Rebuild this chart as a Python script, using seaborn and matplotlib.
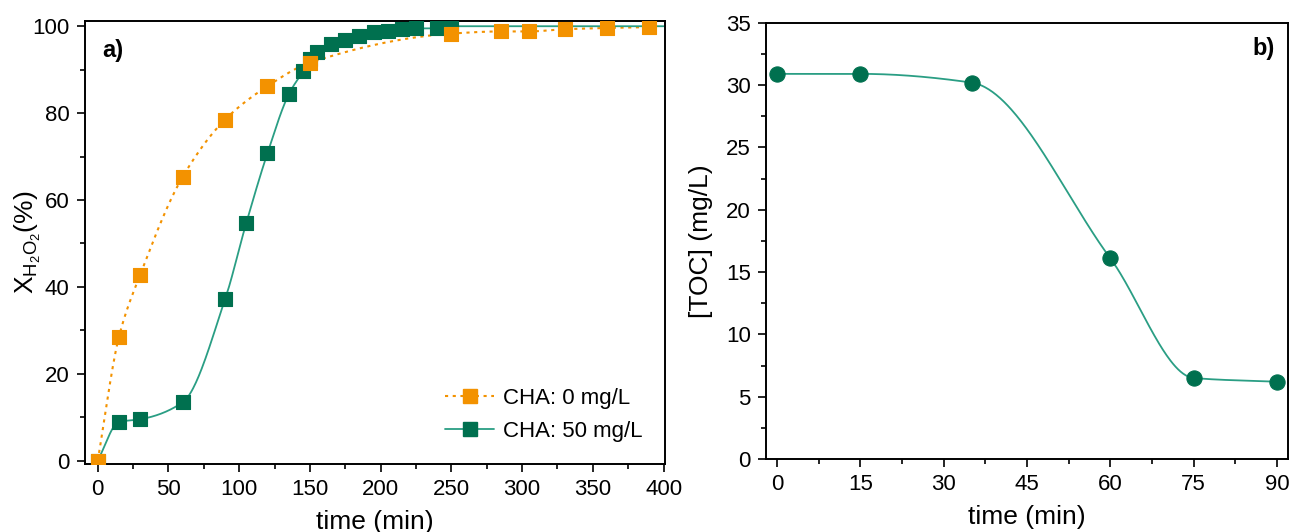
import numpy as np
import pandas as pd
import matplotlib
matplotlib.use("Agg")
import matplotlib.pyplot as plt
from matplotlib.lines import Line2D
from matplotlib.ticker import MultipleLocator
import seaborn as sns

# H2O2 conversion (%) vs time (min)
t_cha0 = [0, 15, 30, 60, 90, 120, 150, 250, 285, 305, 330, 360, 390]
x_cha0 = [0, 28.5, 42.8, 65.3, 78.5, 86.2, 91.6, 98.3, 98.8, 98.8, 99.3, 99.6, 99.8]

t_cha50 = [0, 15, 30, 60, 90, 105, 120, 135, 145, 150, 155, 165, 175, 185, 195,
           205, 215, 225, 240, 250]
x_cha50 = [0, 8.9, 9.5, 13.4, 37.1, 54.7, 70.8, 84.3, 89.6, 92.4, 94.0, 95.8, 96.9,
           97.8, 98.7, 98.9, 99.4, 99.5, 99.5, 100.0]

# TOC (mg/L) vs time (min)
t_toc = [0, 15, 35, 60, 75, 90]
toc = [30.9, 30.9, 30.2, 16.1, 6.5, 6.2]

legend_labels = ["CHA: 0 mg/L", "CHA: 50 mg/L"]

ORANGE = "#F39200"
GREEN_MK = "#00704F"
GREEN_LN = "#2A9E84"


def pchip(x, y, xn):
    """Monotone piecewise cubic Hermite interpolation (Fritsch-Carlson)."""
    x = np.asarray(x, float)
    y = np.asarray(y, float)
    h = np.diff(x)
    d = np.diff(y) / h
    m = np.zeros_like(y)
    for k in range(1, len(x) - 1):
        if d[k - 1] * d[k] > 0:
            w1 = 2 * h[k] + h[k - 1]
            w2 = h[k] + 2 * h[k - 1]
            m[k] = (w1 + w2) / (w1 / d[k - 1] + w2 / d[k])
    m[0] = d[0]
    m[-1] = d[-1]
    xn = np.asarray(xn, float)
    idx = np.clip(np.searchsorted(x, xn) - 1, 0, len(x) - 2)
    s = (xn - x[idx]) / h[idx]
    h00 = 2 * s**3 - 3 * s**2 + 1
    h10 = s**3 - 2 * s**2 + s
    h01 = -2 * s**3 + 3 * s**2
    h11 = s**3 - s**2
    return (h00 * y[idx] + h10 * h[idx] * m[idx] + h01 * y[idx + 1]
            + h11 * h[idx] * m[idx + 1])


sns.set_theme(style="ticks")
plt.rcParams["font.family"] = ["Liberation Sans", "DejaVu Sans"]
plt.rcParams["mathtext.fontset"] = "custom"
plt.rcParams["mathtext.rm"] = "Liberation Sans"
plt.rcParams["mathtext.it"] = "Liberation Sans"
plt.rcParams["text.color"] = "black"
plt.rcParams["axes.labelcolor"] = "black"
plt.rcParams["axes.linewidth"] = 1.4
plt.rcParams["xtick.major.width"] = 1.2
plt.rcParams["ytick.major.width"] = 1.2
plt.rcParams["xtick.minor.width"] = 1.2
plt.rcParams["ytick.minor.width"] = 1.2

fig = plt.figure(figsize=(12.94, 5.32), dpi=100)
ax1 = fig.add_axes([0.0657, 0.1278, 0.4482, 0.8327])
ax2 = fig.add_axes([0.5920, 0.1372, 0.4034, 0.8200])

# ---- panel a) ----
tt0 = np.linspace(0, max(t_cha0), 400)
curve0 = pd.DataFrame({"t": tt0, "x": pchip(t_cha0, x_cha0, tt0)})
tt50 = np.linspace(0, 400, 600)
x50 = np.where(tt50 <= max(t_cha50), pchip(t_cha50, x_cha50, np.minimum(tt50, max(t_cha50))),
               x_cha50[-1])
curve50 = pd.DataFrame({"t": tt50, "x": x50})

sns.lineplot(data=curve0, x="t", y="x", ax=ax1, color=ORANGE, lw=1.5,
             linestyle=(0, (1.5, 2.2)), zorder=2)
sns.lineplot(data=curve50, x="t", y="x", ax=ax1, color=GREEN_LN, lw=1.3, zorder=2)
sns.scatterplot(x=t_cha50, y=x_cha50, ax=ax1, marker="s", s=105, color=GREEN_MK,
                edgecolor=GREEN_MK, linewidth=0.8, zorder=3)
sns.scatterplot(x=t_cha0, y=x_cha0, ax=ax1, marker="s", s=105, color=ORANGE,
                edgecolor=ORANGE, linewidth=0.8, zorder=4)

ax1.set_xlim(-9, 401)
ax1.set_ylim(-0.8, 101.2)
ax1.xaxis.set_major_locator(MultipleLocator(50))
ax1.xaxis.set_minor_locator(MultipleLocator(25))
ax1.yaxis.set_major_locator(MultipleLocator(20))
ax1.yaxis.set_minor_locator(MultipleLocator(10))
ax1.set_xlabel("time (min)", fontsize=19, labelpad=7)
ax1.set_ylabel(r"X$_{\mathregular{H_2O_2}}$(%)", fontsize=19)
ax1.yaxis.set_label_coords(-0.072, 0.5)
ax1.text(0.029, 0.934, "a)", transform=ax1.transAxes, fontsize=17,
         fontweight="bold", va="center", ha="left")

handles = [
    Line2D([], [], color=ORANGE, lw=1.5, linestyle=(0, (1.5, 2.2)), marker="s",
           markersize=10, markerfacecolor=ORANGE, markeredgecolor=ORANGE),
    Line2D([], [], color=GREEN_LN, lw=1.3, marker="s", markersize=10,
           markerfacecolor=GREEN_MK, markeredgecolor=GREEN_MK),
]
leg = ax1.legend(handles, legend_labels, loc="lower right", bbox_to_anchor=(1.0, 0.0),
                 frameon=False, fontsize=16, numpoints=1, handlelength=2.2,
                 handletextpad=0.4, labelspacing=0.55, borderaxespad=0.6)
for txt in leg.get_texts():
    txt.set_color("black")

# ---- panel b) ----
tt = np.linspace(0, max(t_toc), 400)
curve_toc = pd.DataFrame({"t": tt, "toc": pchip(t_toc, toc, tt)})
sns.lineplot(data=curve_toc, x="t", y="toc", ax=ax2, color=GREEN_LN, lw=1.3, zorder=2)
sns.scatterplot(x=t_toc, y=toc, ax=ax2, marker="o", s=120, color=GREEN_MK,
                edgecolor=GREEN_MK, linewidth=0.8, zorder=3)

ax2.set_xlim(-2, 92)
ax2.set_ylim(0, 35)
ax2.xaxis.set_major_locator(MultipleLocator(15))
ax2.xaxis.set_minor_locator(MultipleLocator(7.5))
ax2.yaxis.set_major_locator(MultipleLocator(5))
ax2.yaxis.set_minor_locator(MultipleLocator(2.5))
ax2.set_xlabel("time (min)", fontsize=19, labelpad=7)
ax2.set_ylabel("[TOC] (mg/L)", fontsize=19)
ax2.yaxis.set_label_coords(-0.102, 0.5)
ax2.text(0.975, 0.942, "b)", transform=ax2.transAxes, fontsize=17,
         fontweight="bold", va="center", ha="right")

for ax in (ax1, ax2):
    for side in ("top", "right", "left", "bottom"):
        ax.spines[side].set_visible(True)
        ax.spines[side].set_color("black")
    ax.tick_params(which="major", direction="out", length=6, labelsize=16,
                   colors="black", top=False, right=False, pad=5)
    ax.tick_params(which="minor", direction="out", length=3.5, top=False,
                   right=False, colors="black")
    ax.grid(False)

fig.savefig("out.png", dpi=100, facecolor="white")
